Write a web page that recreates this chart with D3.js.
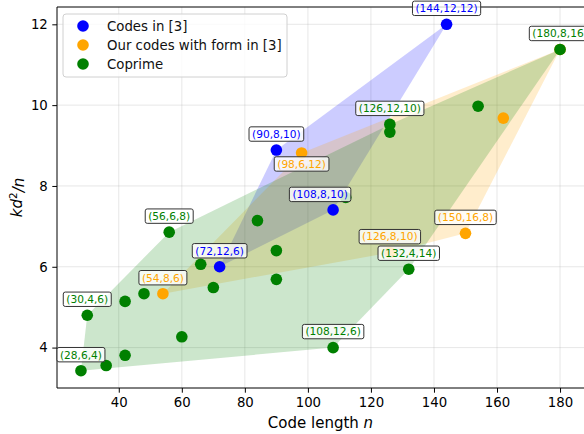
<!DOCTYPE html>
<html>
  <head>
    <meta charset="utf-8">
    <script src="https://d3js.org/d3.v7.min.js"></script>
    <style>
      body { margin: 0; background: white; }
      text { font-family: "DejaVu Sans", sans-serif; }
      .grid line { stroke: #b0b0b0; stroke-opacity: 0.3; }
      .axis path { display: none; }
      .axis line { stroke: black; }
      .axis text { font-size: 13.3px; fill: black; }
    </style>
  </head>
  <body>
    <div id="chart"></div>
    <script>
      // code parameters (n, k, d) for each group; y = k*d^2/n
      const blueN = [144, 90, 108, 72];
      const blueK = [12, 8, 8, 12];
      const blueD = [12, 10, 10, 6];

      const orangeN = [98, 54, 126, 150, 162, 180];
      const orangeK = [6, 8, 8, 16, 8, 8];
      const orangeD = [12, 6, 10, 8, 14, 16];

      const greenN = [28, 36, 42, 30, 42, 48, 56, 60, 66, 70, 84, 90, 90, 108, 112, 126, 126, 132, 154, 180];
      const greenK = [6, 8, 10, 4, 6, 4, 6, 4, 4, 6, 6, 4, 8, 12, 6, 12, 6, 4, 6, 8];
      const greenD = [4, 4, 4, 6, 6, 8, 8, 8, 10, 8, 10, 12, 8, 6, 12, 10, 14, 14, 16, 16];

      const seriesNames = ["Codes in [3]", "Our codes with form in [3]", "Coprime"];
      const xTicks = [40, 60, 80, 100, 120, 140, 160, 180];
      const yTicks = [4, 6, 8, 10, 12];

      const W = 584, H = 434;
      const margin = { left: 57, right: 0, top: 7, bottom: 46 };

      const series = [
        { name: seriesNames[0], color: "blue", n: blueN, k: blueK, d: blueD },
        { name: seriesNames[1], color: "orange", n: orangeN, k: orangeK, d: orangeD },
        { name: seriesNames[2], color: "green", n: greenN, k: greenK, d: greenD }
      ];
      series.forEach(s => {
        s.pts = s.n.map((n, i) => ({ n: n, k: s.k[i], d: s.d[i], y: s.k[i] * s.d[i] * s.d[i] / n }));
      });

      const all = series.flatMap(s => s.pts);
      const xr = d3.extent(all, p => p.n), yr = d3.extent(all, p => p.y);
      const xm = (xr[1] - xr[0]) * 0.05, ym = (yr[1] - yr[0]) * 0.05;

      const x = d3.scaleLinear().domain([xr[0] - xm, xr[1] + xm]).range([margin.left, W - margin.right]);
      const y = d3.scaleLinear().domain([yr[0] - ym, yr[1] + ym]).range([H - margin.bottom, margin.top]);

      const svg = d3.select("#chart").append("svg")
        .attr("width", W).attr("height", H);

      // grid
      const grid = svg.append("g").attr("class", "grid");
      grid.selectAll(".gx").data(xTicks).enter().append("line")
        .attr("x1", d => x(d)).attr("x2", d => x(d))
        .attr("y1", y.range()[0]).attr("y2", y.range()[1]);
      grid.selectAll(".gy").data(yTicks).enter().append("line")
        .attr("x1", x.range()[0]).attr("x2", x.range()[1])
        .attr("y1", d => y(d)).attr("y2", d => y(d));

      // hull polygons
      series.forEach(s => {
        s.hull = d3.polygonHull(s.pts.map(p => [x(p.n), y(p.y), p]));
        svg.append("path")
          .attr("d", "M" + s.hull.map(h => h[0] + "," + h[1]).join("L") + "Z")
          .attr("fill", s.color)
          .attr("fill-opacity", 0.2);
      });

      // points
      series.forEach(s => {
        svg.append("g").selectAll("circle").data(s.pts).enter().append("circle")
          .attr("cx", p => x(p.n)).attr("cy", p => y(p.y))
          .attr("r", 5.8).attr("fill", s.color);
      });

      // axes
      svg.append("g").attr("class", "axis")
        .attr("transform", `translate(0,${y.range()[0]})`)
        .call(d3.axisBottom(x).tickValues(xTicks).tickSize(4.7).tickPadding(4.5));
      svg.append("g").attr("class", "axis")
        .attr("transform", `translate(${x.range()[0]},0)`)
        .call(d3.axisLeft(y).tickValues(yTicks).tickFormat(d3.format("d")).tickSize(4.7).tickPadding(4.5));

      // spines (right one falls off the picture)
      svg.append("line").attr("x1", x.range()[0]).attr("x2", x.range()[0])
        .attr("y1", y.range()[0]).attr("y2", y.range()[1]).attr("stroke", "black");
      svg.append("line").attr("x1", x.range()[0]).attr("x2", W)
        .attr("y1", y.range()[0]).attr("y2", y.range()[0]).attr("stroke", "black");
      svg.append("line").attr("x1", x.range()[0]).attr("x2", W)
        .attr("y1", y.range()[1]).attr("y2", y.range()[1]).attr("stroke", "black");

      // labels on hull vertices (a vertex shared with a later group is labelled by that group)
      const key = p => `${p.n},${p.k},${p.d}`;
      const offsets = { "98,6,12": [0, 11], "108,8,10": [-13, -15.5] };
      const labels = [];
      series.forEach((s, si) => {
        s.hull.forEach(h => {
          const p = h[2];
          const later = series.slice(si + 1).some(t => t.pts.some(q => key(q) === key(p)));
          if (!later) labels.push({ p: p, color: s.color });
        });
      });
      labels.forEach(l => {
        const off = offsets[key(l.p)] || [0, -16];
        const g = svg.append("g")
          .attr("transform", `translate(${x(l.p.n) + off[0]},${y(l.p.y) + off[1]})`);
        const rect = g.append("rect");
        const t = g.append("text")
          .attr("text-anchor", "middle")
          .attr("dy", "0.36em")
          .attr("font-size", "10.6px")
          .attr("fill", l.color)
          .text(`(${key(l.p)})`);
        const bb = t.node().getBBox();
        rect.attr("x", bb.x - 3).attr("y", -7.2).attr("width", bb.width + 6).attr("height", 14.4)
          .attr("rx", 2).attr("fill", "white").attr("fill-opacity", 0.8)
          .attr("stroke", "#333").attr("stroke-width", 1);
      });

      // axis titles
      const xt = svg.append("text").attr("x", (x.range()[0] + x.range()[1]) / 2).attr("y", 428)
        .attr("text-anchor", "middle").attr("font-size", "15px");
      xt.append("tspan").text("Code length ");
      xt.append("tspan").attr("font-style", "italic").text("n");

      const yt = svg.append("text").attr("transform", `translate(22,${(y.range()[0] + y.range()[1]) / 2}) rotate(-90)`)
        .attr("text-anchor", "middle").attr("font-size", "15px").attr("font-style", "italic");
      yt.append("tspan").text("kd");
      yt.append("tspan").attr("dy", "-0.45em").attr("font-size", "10.5px").attr("font-style", "normal").text("2");
      yt.append("tspan").attr("dy", "0.45em").text("/n");

      // legend
      const lg = svg.append("g").attr("transform", "translate(63,14)");
      lg.append("rect").attr("width", 224).attr("height", 63).attr("rx", 3)
        .attr("fill", "white").attr("fill-opacity", 0.8).attr("stroke", "#d0d0d0");
      series.forEach((s, i) => {
        lg.append("circle").attr("cx", 20).attr("cy", 12 + i * 19).attr("r", 5.8).attr("fill", s.color);
        lg.append("text").attr("x", 44).attr("y", 12 + i * 19).attr("dy", "0.36em")
          .attr("font-size", "13.3px").attr("fill", "#111").text(s.name);
      });
    </script>
  </body>
</html>
